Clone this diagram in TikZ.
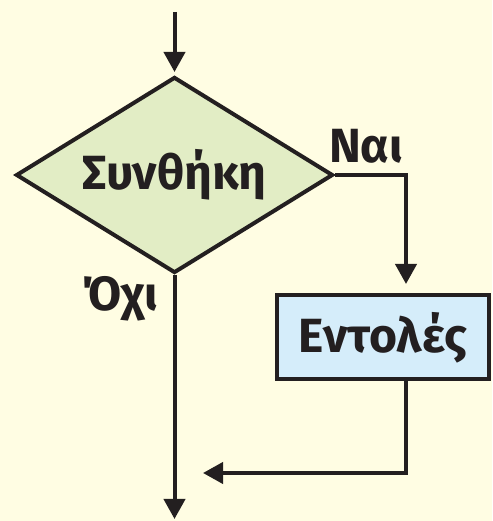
\documentclass[tikz,border=0pt]{standalone}
\usepackage{fontspec}
\newfontfamily\flowfont{Fira Sans}
\usetikzlibrary{shapes.geometric,arrows.meta,positioning}
\definecolor{bgcream}{HTML}{FFFDE3}
\definecolor{condgreen}{HTML}{E2EDC5}
\definecolor{stmtblue}{HTML}{D5EDFA}
\definecolor{inkdark}{HTML}{231F20}
\begin{document}
\begin{tikzpicture}[x=1pt, y=1pt, line width=4pt, draw=inkdark,
  flow/.style={-{Triangle[length=20pt,width=21pt]}, inkdark},
  cond node/.style={diamond,draw=inkdark,fill=condgreen,shape aspect=1.6,inner sep=0pt,minimum width=317pt,minimum height=196pt},
  stmt node/.style={rectangle,draw=inkdark,fill=stmtblue,inner sep=0pt,minimum width=212pt,minimum height=84pt}]
\fill[bgcream] (0,0) rectangle (492,521);
\useasboundingbox (0,0) rectangle (492,521);
\begin{scope}[every node/.style={font=\flowfont\fontsize{48}{52}\selectfont\bfseries, text=inkdark}]
\node[cond node] (cond) at (174.5,346) {Συνθήκη};
\node[stmt node] (stmt) at (383,183.5) {Εντολές};
\node (yes) at (366,375) {Ναι};
\node (no) at (120,222) {Όχι};
\end{scope}
\coordinate (start) at (174.5,509);
\coordinate (yesend) at (406,237);
\coordinate (back) at (203,48);
\coordinate (end) at (174.5,2);
\begin{scope}
\draw[flow, shorten >=3pt] (start) -- (cond.north);
\draw[flow] (cond.east) -| (yesend);
\draw[flow] (stmt.south -| yesend) |- (back);
\draw[flow] (cond.south) -- (end);
\end{scope}
\end{tikzpicture}
\end{document}
